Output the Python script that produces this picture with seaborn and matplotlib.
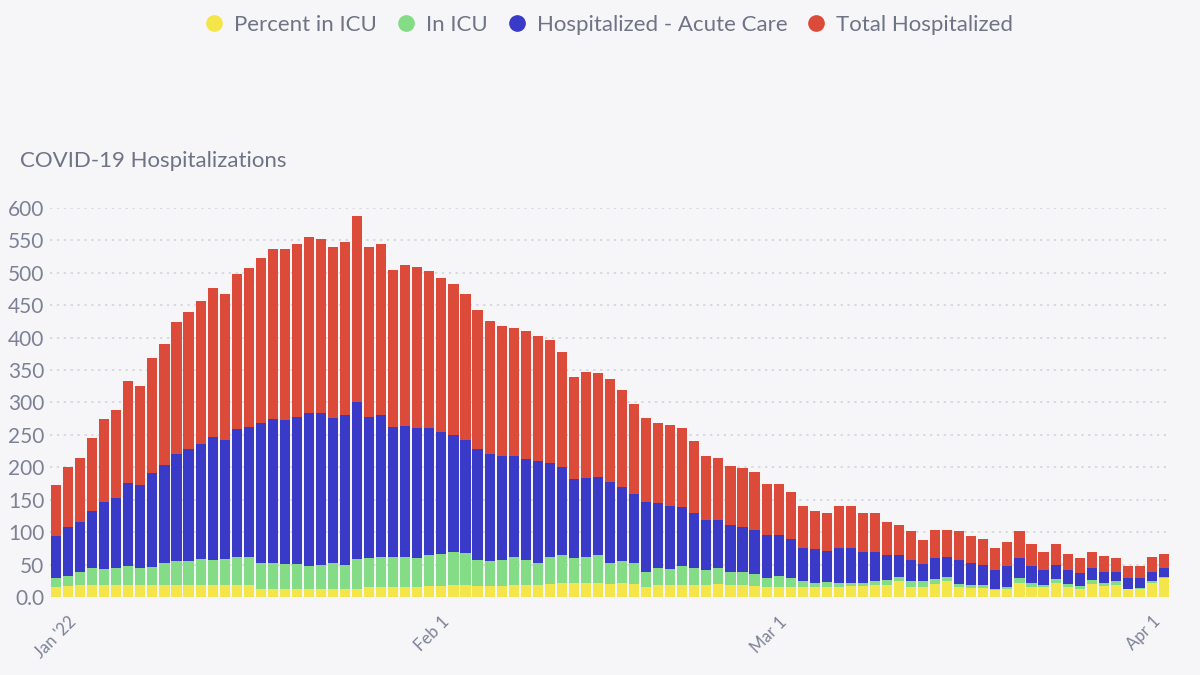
import pandas as pd
import numpy as np
import matplotlib.pyplot as plt
import seaborn as sns
from matplotlib.lines import Line2D

# one bar per day, Dec 31 2021 .. Apr 2 2022
dates = pd.date_range('2021-12-31', '2022-04-02', freq='D')

pct_icu = [16, 17, 18, 18, 18, 18, 18, 18, 18, 18, 18, 18, 18, 18, 18, 18, 18, 12, 12, 12,
           12, 12, 12, 12, 12, 13, 15, 15, 15, 16, 16, 17, 17, 18, 18, 17, 17, 17, 18, 18,
           19, 20, 21, 21, 21, 21, 20, 21, 20, 16, 18, 18, 18, 18, 18, 20, 18, 18, 17, 16,
           16, 16, 16, 16, 16, 16, 17, 17, 18, 18, 24, 16, 16, 20, 24, 15, 14, 14, 11, 13,
           22, 16, 15, 21, 16, 13, 20, 17, 18, 12, 12, 22, 29]
in_icu = [14, 15, 21, 27, 25, 27, 30, 26, 28, 34, 38, 38, 41, 39, 40, 44, 43, 40, 40, 39,
          39, 35, 38, 40, 37, 45, 45, 47, 47, 46, 44, 47, 49, 52, 50, 40, 39, 40, 43, 39,
          34, 41, 44, 39, 41, 43, 33, 34, 33, 23, 27, 25, 29, 27, 24, 24, 20, 20, 19, 14,
          16, 14, 8, 6, 7, 5, 4, 4, 6, 8, 7, 8, 8, 7, 7, 5, 5, 5, 2, 3,
          8, 5, 4, 6, 4, 4, 6, 4, 6, 1, 2, 2, 2]
acute = [64, 76, 76, 87, 103, 107, 128, 128, 145, 152, 164, 173, 177, 189, 184, 197, 201, 216, 222, 222,
         227, 237, 233, 224, 231, 243, 217, 218, 200, 202, 201, 197, 189, 180, 174, 172, 164, 160, 156, 156,
         156, 146, 136, 122, 121, 121, 125, 115, 106, 107, 100, 98, 92, 85, 77, 74, 73, 70, 68, 65,
         63, 59, 52, 52, 48, 55, 54, 49, 46, 38, 33, 33, 27, 33, 31, 37, 33, 31, 29, 31,
         30, 27, 23, 23, 22, 20, 19, 18, 15, 17, 15, 15, 14]
total = [79, 92, 99, 113, 128, 137, 157, 154, 177, 186, 204, 211, 221, 230, 226, 239, 245, 255, 262, 263,
         267, 271, 269, 264, 267, 286, 263, 264, 243, 248, 248, 242, 237, 233, 225, 213, 205, 201, 198, 197,
         194, 190, 177, 158, 164, 161, 158, 150, 139, 130, 124, 124, 121, 111, 99, 97, 91, 91, 88, 79,
         79, 73, 65, 59, 59, 65, 65, 59, 59, 52, 47, 45, 37, 43, 41, 44, 42, 39, 33, 38,
         41, 34, 28, 32, 24, 23, 25, 24, 21, 18, 18, 22, 21]

series = ['Percent in ICU', 'In ICU', 'Hospitalized - Acute Care', 'Total Hospitalized']
colors = ['#f3e54a', '#84dc86', '#3a3ac8', '#dc4a39']

df = pd.DataFrame({'date': dates.strftime('%Y-%m-%d'),
                   'Percent in ICU': pct_icu, 'In ICU': in_icu,
                   'Hospitalized - Acute Care': acute, 'Total Hospitalized': total})
stack = df[series].cumsum(axis=1)

sns.set_style('white')
plt.rcParams['font.family'] = ['Lato', 'DejaVu Sans']
bg = '#f6f6f8'
grey = '#7d8196'

fig = plt.figure(figsize=(12, 6.75), dpi=100, facecolor=bg)
ax = fig.add_axes([0.0417, 0.1156, 0.9333, 0.5763], facecolor=bg)

# draw the cumulative layers back to front so they look stacked
for name, col in reversed(list(zip(series, colors))):
    sns.barplot(x=df['date'], y=stack[name], color=col, saturation=1,
                width=0.84, linewidth=0, ax=ax, zorder=3)

ax.set_xlim(-0.5, len(df) - 0.5)
ax.set_ylim(0, 600)
yt = np.arange(0, 601, 50)
ax.set_yticks(yt)
ax.set_yticklabels(['0.0'] + [str(v) for v in yt[1:]], fontsize=15, color=grey)
for v in yt[1:]:
    ax.axhline(v, color='#cfd2dc', lw=1.1, ls=(0, (1.5, 3)), zorder=1)

tick_pos = [1, 32, 60, 91]
ax.set_xticks(tick_pos)
ax.set_xticklabels(["Jan '22", 'Feb 1', 'Mar 1', 'Apr 1'], rotation=45,
                   ha='right', rotation_mode='anchor', fontsize=12, color=grey)
ax.set_xticks([0, 92], minor=True)
ax.tick_params(axis='x', which='both', length=8, color='#d6d8e0', width=1, pad=4)
ax.tick_params(axis='y', length=0, pad=4)
ax.set_xlabel('')
ax.set_ylabel('')
sns.despine(ax=ax, left=True, bottom=True, top=True, right=True)

fig.text(0.017, 0.762, 'COVID-19 Hospitalizations', fontsize=16, color='#6f7386', va='center')

handles = [Line2D([], [], marker='o', ls='', color=c, markersize=11) for c in colors]
fig.legend(handles, series, loc='center', bbox_to_anchor=(0.505, 0.963), ncol=4,
           frameon=False, fontsize=16, labelcolor='#6f7386', handletextpad=0.2,
           columnspacing=0.6, handlelength=1.4)

fig.savefig('out.png', dpi=100, facecolor=bg)
